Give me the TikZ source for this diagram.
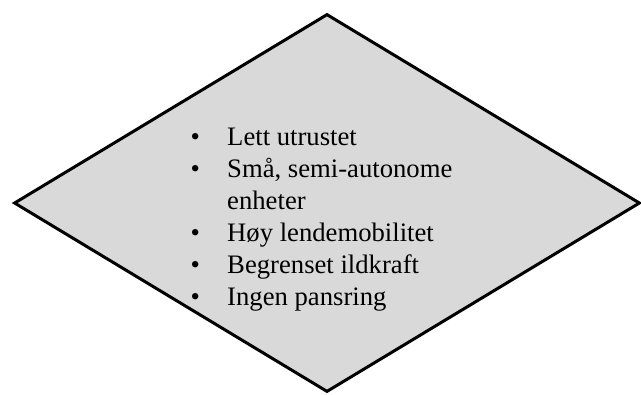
\documentclass[tikz,border=0pt]{standalone}
\usepackage{fontspec}
\setmainfont{Liberation Serif}
\usetikzlibrary{shapes.geometric}
\definecolor{boxgray}{RGB}{217,217,217}
\begin{document}
\begin{tikzpicture}[x=0.75pt,y=-0.75pt,
    box/.style={diamond, draw=black, line width=2.25pt, fill=boxgray,
        inner sep=0pt, minimum width=469.5pt, minimum height=283.5pt},
    liste/.style={anchor=base west, inner sep=0pt, align=left,
        font=\fontsize{20}{24}\selectfont}]
    \useasboundingbox (0,0) rectangle (641,394);
    % Rute
    \node[box] (rute) at (327,203) {};
    % Punktliste
    \node[liste] (punkter) at (190.3,145) {%
        \begin{tabular}[t]{@{}l@{\hspace{20.5pt}}l@{}}
            \textbullet & Lett utrustet\\
            \textbullet & Små, semi-autonome\\
                        & enheter\\
            \textbullet & Høy lendemobilitet\\
            \textbullet & Begrenset ildkraft\\
            \textbullet & Ingen pansring
        \end{tabular}};
\end{tikzpicture}
\end{document}
